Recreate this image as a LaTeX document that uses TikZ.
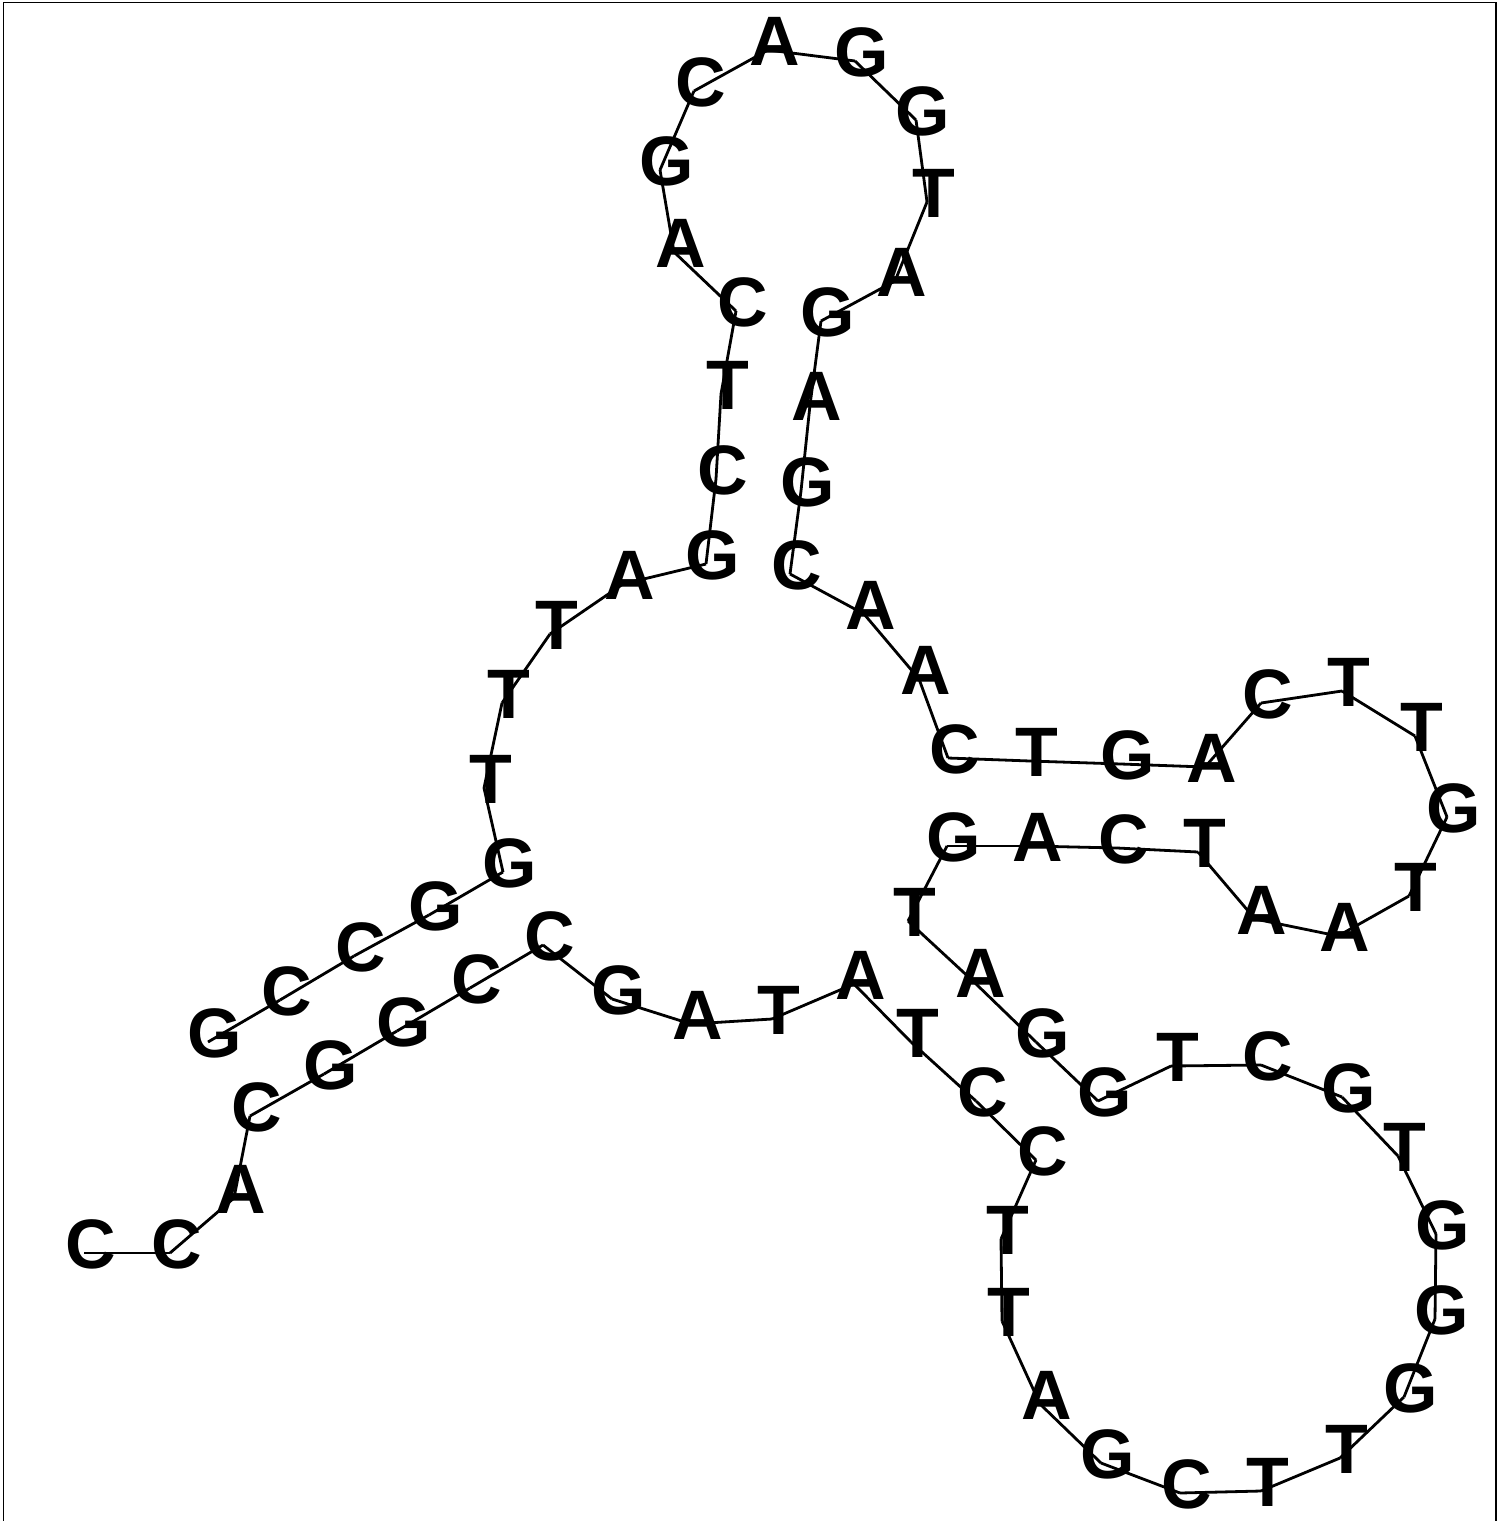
\documentclass[tikz,border=0pt]{standalone}
\usepackage{fontspec}
\setsansfont{Liberation Sans}
\tikzset{
  every picture/.style={x=1pt, y=-1pt},
  nt/.style={font=\sffamily\bfseries\fontsize{70}{70}\selectfont, inner sep=0pt},
  bb/.style={draw=black, line width=2.8pt},
  frame/.style={draw=black, line width=1.3pt},
}

\begin{document}
\begin{tikzpicture}
  \useasboundingbox (0,0) rectangle (1504,1521);
  \draw[frame] (3.5,1521) -- (3.5,2.3) -- (1496,2.3) -- (1496,1521);
  % nucleotides, 5' to 3'
  \foreach \i/\b/\x/\y in {
      1/C/91/1244, 2/C/177/1244, 3/A/241/1189, 4/C/257/1107, 5/G/331/1065,
      6/G/404/1022, 7/C/477/979, 8/C/550/936, 9/G/619/990, 10/A/698/1015,
      11/T/779/1010, 12/A/861/975, 13/T/918/1033, 14/C/983/1092, 15/C/1043/1151,
      16/T/1008/1230, 17/T/1009/1312, 18/A/1047/1395, 19/G/1108/1454, 20/C/1187/1484,
      21/T/1268/1482, 22/T/1347/1449, 23/G/1411/1388, 24/G/1442/1310, 25/G/1443/1225,
      26/T/1405/1147, 27/G/1349/1088, 28/C/1268/1056, 29/T/1178/1057, 30/G/1105/1092,
      31/G/1043/1033, 32/A/981/973, 33/T/915/912, 34/G/954/837, 35/A/1038/837,
      36/C/1124/839, 37/T/1205/843, 38/A/1262/910, 39/A/1345/927, 40/T/1416/887,
      41/G/1454/808, 42/T/1422/727, 43/T/1349/682, 44/C/1268/694, 45/A/1212/758,
      46/G/1128/755, 47/T/1037/752, 48/C/955/749, 49/A/926/670, 50/A/871/605,
      51/C/797/565, 52/G/808/482, 53/A/817/396, 54/G/828/312, 55/A/902/272,
      56/T/934/193, 57/G/923/111, 58/G/862/52, 59/A/775/41, 60/C/701/82,
      61/G/667/161, 62/A/681/243, 63/C/743/302, 64/T/728/385, 65/C/723/470,
      66/G/713/555, 67/A/630/575, 68/T/557/625, 69/T/509/694, 70/T/491/779,
      71/G/510/863, 72/G/436/906, 73/C/361/947, 74/C/287/991, 75/G/215/1033}
    \node[nt] (n\i) at (\x,\y) {\b};
  % backbone, a little below left of each letter
  \foreach \i [remember=\i as \p (initially 1)] in {2,...,75}
    \draw[bb] ([shift={(-7,9)}]n\p.center) -- ([shift={(-7,9)}]n\i.center);
\end{tikzpicture}
\end{document}
